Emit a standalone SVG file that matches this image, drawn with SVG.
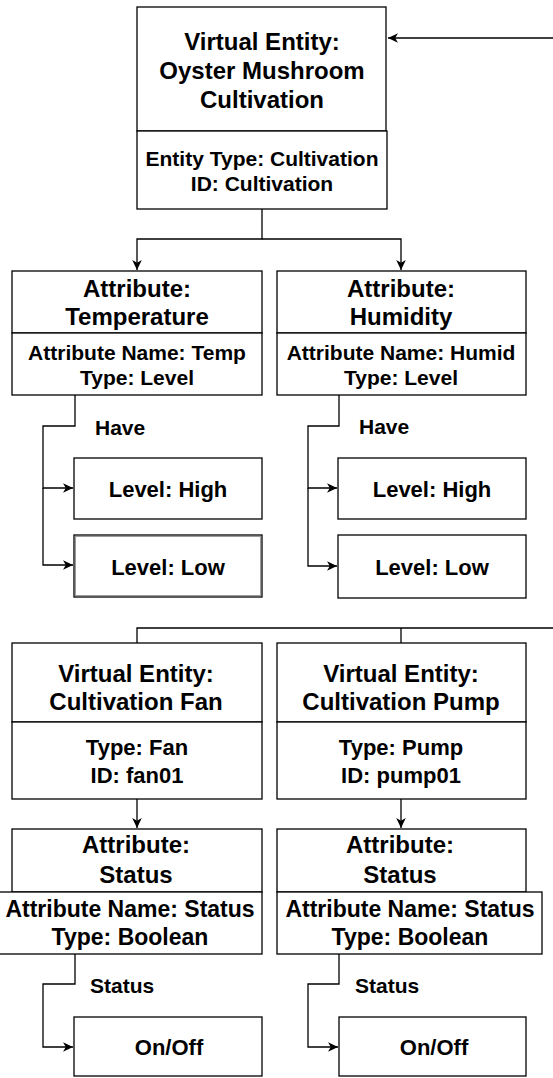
<svg xmlns="http://www.w3.org/2000/svg" width="553" height="1078" viewBox="0 0 553 1078">
  <style>
    .box { fill: #ffffff; stroke: #000000; stroke-width: 1.3; }
    .edge { fill: none; stroke: #000000; stroke-width: 1.3; }
    text { font-family: "Liberation Sans", Arial, sans-serif; font-weight: bold; fill: #000000; text-anchor: middle; }
    .t24 { font-size: 24px; }
    .t21 { font-size: 21px; }
    .t22 { font-size: 22px; }
    .t23 { font-size: 23px; }
    .lbl { font-size: 21px; text-anchor: start; }
  </style>
  <defs>
    <marker id="arrow" markerUnits="userSpaceOnUse" markerWidth="12" markerHeight="12" viewBox="0 0 12 12" refX="11" refY="6" orient="auto">
      <path d="M1,1.2 L11,6 L1,10.8 L3.8,6 z" fill="#000000"/>
    </marker>
  </defs>

  <!-- connectors -->
  <g id="connectors">
    <path class="edge" d="M553,38 H388" marker-end="url(#arrow)"/>
    <path class="edge" d="M262,209 V239 H137 V270" marker-end="url(#arrow)"/>
    <path class="edge" d="M262,239 H401 V270" marker-end="url(#arrow)"/>
    <path class="edge" d="M75,395 V426 H43 V488 H73" marker-end="url(#arrow)"/>
    <path class="edge" d="M43,488 V565 H73" marker-end="url(#arrow)"/>
    <path class="edge" d="M339,395 V426 H308 V488 H337" marker-end="url(#arrow)"/>
    <path class="edge" d="M308,488 V566 H337" marker-end="url(#arrow)"/>
    <path class="edge" d="M553,628 H137 V643"/>
    <path class="edge" d="M401,628 V643"/>
    <path class="edge" d="M137,799 V828" marker-end="url(#arrow)"/>
    <path class="edge" d="M401,799 V828" marker-end="url(#arrow)"/>
    <path class="edge" d="M75,954 V984 H43 V1047 H73" marker-end="url(#arrow)"/>
    <path class="edge" d="M339,954 V984 H308 V1047 H338" marker-end="url(#arrow)"/>
  </g>

  <!-- main entity -->
  <g id="cultivation">
    <rect class="box" x="137" y="7" width="249" height="124"/>
    <rect class="box" x="137" y="131" width="250" height="78"/>
    <text class="t24" x="262" y="50">Virtual Entity:</text>
    <text class="t24" x="262" y="79">Oyster Mushroom</text>
    <text class="t24" x="262" y="108">Cultivation</text>
    <text class="t21" x="262" y="166">Entity Type: Cultivation</text>
    <text class="t21" x="262" y="191">ID: Cultivation</text>
  </g>

  <!-- temperature attribute -->
  <g id="attr-temperature">
    <rect class="box" x="12" y="271" width="250" height="62"/>
    <rect class="box" x="12" y="333" width="250" height="62"/>
    <text class="t24" x="137" y="297">Attribute:</text>
    <text class="t24" x="137" y="325">Temperature</text>
    <text class="t21" x="137" y="360">Attribute Name: Temp</text>
    <text class="t21" x="137" y="385">Type: Level</text>
  </g>

  <!-- humidity attribute -->
  <g id="attr-humidity">
    <rect class="box" x="277" y="271" width="249" height="62"/>
    <rect class="box" x="277" y="333" width="249" height="62"/>
    <text class="t24" x="401" y="297">Attribute:</text>
    <text class="t24" x="401" y="325">Humidity</text>
    <text class="t21" x="401" y="360">Attribute Name: Humid</text>
    <text class="t21" x="401" y="385">Type: Level</text>
  </g>

  <!-- edge labels -->
  <g id="labels">
    <text class="lbl" x="95" y="435">Have</text>
    <text class="lbl" x="359" y="434">Have</text>
    <text class="lbl" x="90" y="993">Status</text>
    <text class="lbl" x="355" y="993">Status</text>
  </g>

  <!-- temperature levels -->
  <g id="temp-high">
    <rect class="box" x="74" y="458" width="188" height="61"/>
    <text class="t22" x="168" y="497">Level: High</text>
  </g>
  <g id="temp-low">
    <rect class="box" x="74" y="535" width="188" height="62"/>
    <rect x="75.5" y="536.5" width="185" height="59" fill="none" stroke="#9a9a9a" stroke-width="1"/>
    <text class="t22" x="168" y="575">Level: Low</text>
  </g>

  <!-- humidity levels -->
  <g id="humid-high">
    <rect class="box" x="338" y="458" width="188" height="61"/>
    <text class="t22" x="432" y="497">Level: High</text>
  </g>
  <g id="humid-low">
    <rect class="box" x="338" y="535" width="188" height="63"/>
    <text class="t22" x="432" y="575">Level: Low</text>
  </g>

  <!-- fan entity -->
  <g id="fan">
    <rect class="box" x="12" y="643" width="250" height="79"/>
    <rect class="box" x="12" y="722" width="250" height="77"/>
    <text class="t24" x="136" y="682">Virtual Entity:</text>
    <text class="t24" x="136" y="710">Cultivation Fan</text>
    <text class="t22" x="137" y="755">Type: Fan</text>
    <text class="t22" x="137" y="783">ID: fan01</text>
  </g>

  <!-- pump entity -->
  <g id="pump">
    <rect class="box" x="277" y="643" width="249" height="79"/>
    <rect class="box" x="277" y="722" width="249" height="77"/>
    <text class="t24" x="401" y="682">Virtual Entity:</text>
    <text class="t24" x="401" y="710">Cultivation Pump</text>
    <text class="t22" x="401" y="755">Type: Pump</text>
    <text class="t22" x="401" y="783">ID: pump01</text>
  </g>

  <!-- fan status attribute -->
  <g id="attr-fan-status">
    <rect class="box" x="12" y="829" width="250" height="63"/>
    <rect class="box" x="-1" y="892" width="263" height="62"/>
    <text class="t24" x="136" y="853">Attribute:</text>
    <text class="t24" x="136" y="883">Status</text>
    <text class="t23" x="130" y="917">Attribute Name: Status</text>
    <text class="t23" x="130" y="945">Type: Boolean</text>
  </g>

  <!-- pump status attribute -->
  <g id="attr-pump-status">
    <rect class="box" x="277" y="829" width="249" height="63"/>
    <rect class="box" x="277" y="892" width="265" height="62"/>
    <text class="t24" x="400" y="853">Attribute:</text>
    <text class="t24" x="400" y="883">Status</text>
    <text class="t23" x="410" y="917">Attribute Name: Status</text>
    <text class="t23" x="410" y="945">Type: Boolean</text>
  </g>

  <!-- status values -->
  <g id="fan-onoff">
    <rect class="box" x="74" y="1017" width="188" height="59"/>
    <text class="t22" x="169" y="1055">On/Off</text>
  </g>
  <g id="pump-onoff">
    <rect class="box" x="339" y="1017" width="187" height="59"/>
    <text class="t22" x="434" y="1055">On/Off</text>
  </g>
</svg>
